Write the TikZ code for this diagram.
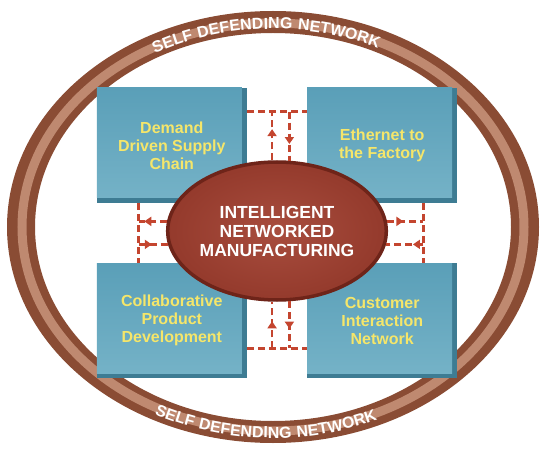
\documentclass[tikz,border=0pt]{standalone}
\usepackage{fontspec}
\setmainfont{Liberation Sans}
\newfontfamily\anillofuente[LetterSpace=6]{Liberation Sans}
\usetikzlibrary{positioning,shapes.geometric,decorations.text,decorations.markings,arrows.meta}
\definecolor{azulcaja}{HTML}{5A9FB8}
\definecolor{azulclaro}{HTML}{8CC3D4}
\definecolor{azulbisel}{HTML}{3E7C93}
\definecolor{marronanillo}{HTML}{8A4C34}
\definecolor{marronbrillo}{HTML}{BF8970}
\definecolor{granate}{HTML}{943A2C}
\definecolor{granateclaro}{HTML}{A84D3E}
\definecolor{granateoscuro}{HTML}{6E2419}
\definecolor{rojoflecha}{HTML}{C4452F}
\definecolor{amarillotexto}{HTML}{F5E66A}
\newcommand\letraanillo{\anillofuente\bfseries\fontsize{16}{16}\selectfont}

\tikzset{
  caja/.style={rectangle,minimum width=150pt,minimum height=115pt,inner sep=0pt,
    fill=azulbisel,text=amarillotexto,align=center,font=\bfseries\fontsize{16}{18}\selectfont,
    path picture={\shade[top color=azulcaja,bottom color=azulclaro!55!azulcaja]
      (path picture bounding box.north west) rectangle ([xshift=-5pt,yshift=5pt]path picture bounding box.south east);}},
  nucleo/.style={ellipse,minimum width=174pt,minimum height=138pt,inner sep=0pt,
    inner color=granateclaro,outer color=granate,draw=granateoscuro,line width=3.5pt,
    text=white,align=center,font=\bfseries\fontsize{17.5}{19}\selectfont},
  flujo/.style={draw=rojoflecha,line width=2.6pt,dash pattern=on 7pt off 4pt},
  punta/.style={postaction={decorate},decoration={markings,
    mark=at position #1 with {\arrow{Triangle[width=9pt,length=7pt]}}}}
}

\begin{document}
\begin{tikzpicture}[x=1pt,y=1pt]
\useasboundingbox (0,0) rectangle (544,448);
\coordinate (anillo) at (273,221);
\coordinate (centro) at (277,215);

\fill[marronanillo,even odd rule] (anillo) ellipse [x radius=266,y radius=216]
  (anillo) ellipse [x radius=238,y radius=194];
\draw[marronbrillo,line width=9pt] (anillo) ellipse [x radius=251,y radius=204];
\path[decorate,decoration={text along path,text align=center,text color=white,
  text={|\letraanillo|SELF DEFENDING NETWORK}}]
  ([shift={(164:245 and 198)}]anillo) arc[start angle=164,end angle=20,x radius=245,y radius=198];
\path[decorate,decoration={text along path,text align=center,text color=white,
  text={|\letraanillo|SELF DEFENDING NETWORK}}]
  ([shift={(196:257 and 211)}]anillo) arc[start angle=196,end angle=340,x radius=257,y radius=211];

\node[caja,above left=30pt and 30pt of centro] (ddsc) {Demand\\Driven Supply\\Chain};
\node[caja,above right=30pt and 30pt of centro] (eth) {Ethernet to\\the Factory};
\node[caja,below left=30pt and 30pt of centro] (cpd) {Collaborative\\Product\\Development};
\node[caja,below right=30pt and 30pt of centro] (cin) {Customer\\Interaction\\Network};

\node[nucleo] (inm) at ([yshift=2pt]centro) {INTELLIGENT\\NETWORKED\\MANUFACTURING};

\coordinate (arribaI) at ([yshift=-24pt]ddsc.north east);
\coordinate (arribaD) at ([yshift=-24pt]eth.north west);
\coordinate (abajoI) at ([yshift=30pt]cpd.south east);
\coordinate (abajoD) at ([yshift=30pt]cin.south west);
\coordinate (izqA) at ([xshift=42pt]ddsc.south west);
\coordinate (izqB) at ([xshift=42pt]cpd.north west);
\coordinate (derA) at ([xshift=-34pt]eth.south east);
\coordinate (derB) at ([xshift=-34pt]cin.north east);

\draw[flujo] (arribaI) -- (arribaD);
\draw[flujo,punta=0.64] (inm.94) -- (inm.94 |- arribaI);
\draw[flujo,punta=0.66] (inm.80 |- arribaI) -- (inm.80);
\draw[flujo] (abajoI) -- (abajoD);
\draw[flujo,punta=0.58] (inm.266 |- abajoI) -- (inm.266);
\draw[flujo,punta=0.58] (inm.280) -- (inm.280 |- abajoI);
\draw[flujo] (izqA) -- (izqB);
\draw[flujo,punta=0.8] (inm.175) -- (inm.175 -| izqA);
\draw[flujo,punta=0.45] (inm.187 -| izqA) -- (inm.187);
\draw[flujo] (derA) -- (derB);
\draw[flujo,punta=0.45] (inm.5) -- (inm.5 -| derA);
\draw[flujo,punta=0.28] (inm.353 -| derA) -- (inm.353);
\end{tikzpicture}
\end{document}
